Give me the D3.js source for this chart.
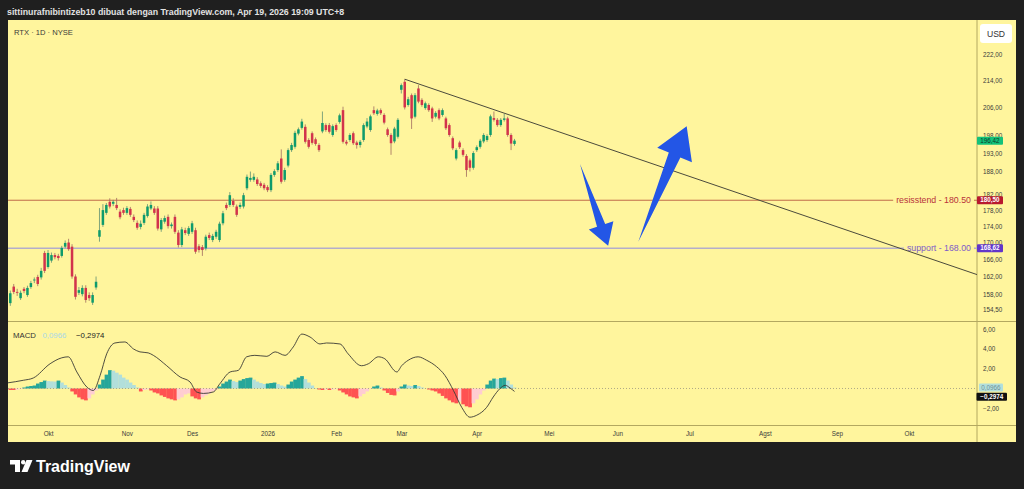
<!DOCTYPE html>
<html>
<head>
<meta charset="utf-8">
<script src="https://cdn.jsdelivr.net/npm/d3@7"></script>
<style>
  html, body { margin: 0; padding: 0; background: #1f1f1f; overflow: hidden; }
  svg { display: block; font-family: "Liberation Sans", Arial, sans-serif; }
</style>
</head>
<body>
<div id="chart"></div>
<script>
// Daily candles, RTX, bar index 0 = Sep 16 2025 ... 147 = Apr 17 2026
var barOpen = [156.0,159.7,158.5,157.1,159.2,157.8,159.6,161.1,161.9,161.8,167.5,164.2,165.7,167.0,166.8,166.8,169.0,170.0,169.0,162.0,
  158.3,158.0,159.4,157.8,156.1,159.5,171.4,174.3,177.3,180.1,179.6,179.3,177.6,178.0,177.3,178.3,176.3,174.8,173.8,174.8,
  176.5,178.4,178.4,178.4,173.2,175.1,176.3,174.0,176.3,172.4,169.4,173.0,172.1,172.6,173.0,169.1,168.9,168.6,171.8,170.6,
  171.4,170.6,174.7,179.3,179.3,180.3,178.9,178.8,178.9,183.6,185.8,185.8,185.9,184.9,184.5,183.9,183.1,187.1,188.4,191.5,
  185.8,189.6,193.8,194.7,198.4,200.0,200.3,196.6,198.5,196.8,195.2,199.0,200.8,200.8,198.0,200.8,201.7,205.1,196.1,196.6,
  198.5,195.9,195.2,196.6,200.4,199.4,205.1,204.0,205.1,203.7,199.6,198.0,196.2,197.5,211.1,213.5,206.6,209.5,203.2,211.5,
  208.1,205.7,206.6,205.6,203.2,205.1,203.7,202.7,200.8,197.1,191.5,195.9,193.8,192.2,191.0,189.0,193.8,194.7,196.2,196.6,
  198.0,202.8,202.3,200.8,202.3,202.7,198.0,195.5];
var barHigh = [158.8,160.3,159.2,158.8,159.6,159.9,161.0,161.8,162.4,164.0,168.0,168.2,167.6,167.5,167.3,169.2,170.5,170.9,169.6,162.5,
  159.6,160.0,160.0,158.4,158.4,162.0,178.5,179.5,179.8,181.0,180.6,181.1,178.2,178.6,179.0,178.8,176.9,175.4,175.4,177.3,
  179.5,180.2,179.0,179.0,176.0,176.6,176.9,174.9,176.9,173.0,173.8,173.6,174.0,175.3,173.6,169.6,169.4,171.9,172.4,172.1,
  173.1,175.1,177.8,179.9,182.6,181.0,179.4,179.9,182.4,187.2,188.0,187.5,186.5,185.4,185.0,184.4,187.6,188.6,190.8,194.0,
  189.0,194.3,195.8,199.2,200.1,202.6,201.0,197.1,199.0,197.3,195.7,204.7,201.3,201.4,201.0,201.3,204.1,206.1,196.6,198.5,
  199.0,196.4,196.6,201.3,202.8,203.8,206.2,205.5,205.6,204.2,200.1,198.5,200.3,202.8,213.0,214.3,209.0,210.0,210.1,212.5,
  208.6,207.6,207.1,206.1,204.8,205.6,205.6,203.2,201.3,197.6,194.3,196.4,194.3,192.7,191.5,193.5,195.1,196.9,198.5,198.2,
  203.8,204.7,202.8,202.8,204.0,203.2,198.5,196.9];
var barLow = [155.4,158.0,157.6,156.7,158.2,157.4,159.2,160.5,159.8,161.3,162.8,163.8,165.2,166.0,165.7,166.4,168.6,168.0,161.5,156.8,
  157.8,157.5,156.1,156.5,155.6,159.0,170.2,173.8,176.8,178.4,179.0,178.0,175.7,176.8,176.8,176.3,175.0,173.1,173.2,174.3,
  176.1,178.0,176.8,172.9,172.6,174.6,173.4,173.4,172.1,168.8,168.9,171.8,171.6,172.1,167.3,167.6,166.8,168.1,170.6,170.1,
  170.9,170.1,174.2,178.0,178.8,178.8,176.3,178.3,178.4,183.1,185.3,185.3,184.2,183.7,183.1,182.6,182.6,186.6,187.9,184.8,
  185.3,189.1,193.3,194.2,197.9,199.5,195.6,194.2,195.3,195.0,193.3,198.5,198.9,198.4,197.5,198.9,201.2,195.6,195.1,196.1,
  195.2,194.2,194.5,196.1,199.9,198.9,203.7,203.5,203.7,201.0,197.5,192.5,195.7,197.0,210.0,205.3,206.1,199.7,202.7,207.1,
  206.1,205.2,204.6,201.7,202.7,202.2,203.2,199.4,197.5,193.8,191.0,194.1,192.0,186.6,188.0,188.5,193.3,194.2,195.7,196.1,
  197.5,201.8,200.3,200.3,201.8,197.5,193.8,195.0];
var barClose = [158.2,158.5,158.3,158.3,158.7,159.4,160.5,161.3,160.3,163.3,163.3,167.5,167.0,166.5,166.3,168.7,169.9,168.4,162.0,157.4,
  158.9,159.4,156.7,157.1,157.8,160.8,173.0,178.0,179.3,178.9,180.1,178.5,176.2,177.3,178.5,176.8,175.5,173.6,174.6,176.8,
  178.9,179.3,177.3,173.4,175.5,176.0,174.0,174.4,172.6,169.4,173.2,172.3,173.5,174.7,167.8,168.2,168.2,171.4,171.1,171.6,
  172.6,174.6,177.2,178.5,181.8,179.3,176.8,179.3,181.8,186.6,186.3,186.6,184.7,184.2,183.6,183.1,187.1,188.1,190.2,185.3,
  188.4,193.8,195.2,198.6,199.6,201.8,196.1,194.7,195.8,195.5,193.8,201.4,199.4,198.9,200.5,199.4,203.6,196.1,195.6,198.0,
  195.7,195.2,196.1,200.8,201.8,203.3,204.2,205.0,204.2,201.5,198.0,195.7,199.8,202.3,212.5,205.9,208.3,202.7,209.5,207.6,
  206.6,207.1,205.1,202.7,204.3,202.7,205.1,199.9,198.0,194.3,193.8,194.6,192.5,188.4,189.0,193.0,194.6,196.4,198.0,197.7,
  203.3,202.3,200.8,202.3,202.7,198.0,195.6,196.42];

// MACD histogram, one value per bar
var macdHist = [-0.15,-0.15,-0.12,-0.05,0.1,0.2,0.25,0.3,0.5,0.65,0.8,0.75,0.72,0.7,0.8,0.6,0.35,0.1,-0.3,-0.6,
  -0.9,-1.1,-1.2,-1.0,-0.6,-0.2,0.4,0.9,1.4,1.85,1.8,1.6,1.4,1.1,0.9,0.6,0.35,0.1,-0.3,-0.15,
  -0.1,-0.2,-0.4,-0.5,-0.7,-0.85,-1.0,-1.1,-1.2,-1.1,-0.9,-0.6,-0.5,-0.8,-1.0,-1.1,-0.9,-0.7,-0.5,-0.3,
  -0.1,0.2,0.5,0.7,0.9,0.75,0.65,0.8,0.95,1.05,1.1,0.9,0.7,0.55,0.45,0.5,0.55,0.6,0.45,0.3,
  0.2,0.4,0.7,0.9,1.1,1.25,0.95,0.6,0.3,0.05,-0.1,-0.15,-0.1,-0.15,-0.1,-0.05,-0.2,-0.4,-0.6,-0.8,
  -0.9,-1.0,-0.8,-0.55,-0.3,-0.05,0.2,0.3,0.1,-0.2,-0.45,-0.65,-0.7,-0.3,0.2,0.4,0.3,0.25,0.35,0.25,
  0.1,0.02,-0.1,-0.2,-0.3,-0.5,-0.75,-1.0,-1.2,-1.4,-1.5,-1.3,-1.6,-1.8,-1.9,-1.5,-1.1,-0.6,-0.2,0.4,
  0.8,1.0,0.95,1.05,1.1,0.8,0.4,0.0966];

// MACD line, read at these bar positions
var macdLineIdx = [-0.9,3.8,6.7,11.6,15.0,16.9,19.4,22.3,24.2,26.2,28.1,30.5,33.4,35.9,37.8,40.2,41.7,45.6,49.5,52.4,
  54.3,56.3,59.2,61.1,64.1,66.5,68.9,71.3,74.8,77.2,80.1,82.5,85.0,87.4,90.3,92.2,96.1,98.5,102.4,104.4,
  107.3,109.2,112.7,114.1,116.0,118.9,121.4,124.3,126.7,129.2,131.6,134.0,136.0,138.9,140.8,142.8,144.3,145.7,147];
var macdLineVal = [0.56,0.83,1.06,2.5,3.1,3.2,1.67,0.15,-0.2,1.33,3.5,4.6,4.7,4.0,3.7,3.6,3.35,2.3,1.16,0.66,
  -0.35,-0.5,-0.35,0.48,1.67,1.84,3.2,3.35,3.25,3.7,3.35,4.2,5.5,5.2,4.5,4.6,4.5,3.5,2.3,2.5,
  3.2,3.0,1.67,2.3,2.85,3.2,2.85,2.2,1.33,-0.2,-1.9,-2.9,-2.7,-1.9,-0.86,0,0.32,0.05,-0.2974];

var priceTicks = [222, 214, 206, 198, 193, 188, 182, 178, 174, 170, 166, 162, 158, 154.5];
var macdTicks = [6, 4, 2, -2];
var monthIdx = [11, 34, 53, 75, 95, 114, 136, 157, 177, 198, 220, 241, 262];
var monthLabels = ["Okt", "Nov", "Des", "2026", "Feb", "Mar", "Apr", "Mei", "Jun", "Jul", "Agst", "Sep", "Okt"];

// drawings
var resistLevel = 180.50, supportLevel = 168.62;
var trendIdx = [115, 282], trendPrice = [214.3, 162.4];
var arrowFrom = [[166.1, 190.0], [183.1, 170.2]];
var arrowTo = [[174.3, 169.2], [197.2, 200.5]];
var macdNow = 0.0966, macdLineNow = -0.2974;

var svgWidth = 1024, svgHeight = 489;
var axisX = 977;
var priceTop = 20, priceBottom = 321.5, macdBottom = 425.5;

var fmt = function(d) { return d.toFixed(2).replace(".", ","); };
function fmt4(v) { return (v < 0 ? "\u2212" : "") + Math.abs(v).toFixed(4).replace(".", ","); }

var svg = d3.select("#chart").append("svg")
  .attr("width", svgWidth)
  .attr("height", svgHeight);

svg.append("rect").attr("width", svgWidth).attr("height", svgHeight).attr("fill", "#1f1f1f");
svg.append("rect")
  .attr("x", 8).attr("y", 20).attr("width", 1008).attr("height", 422)
  .attr("fill", "#fff59d");

// header
svg.append("text")
  .attr("x", 7).attr("y", 15)
  .attr("fill", "#e2e2e2")
  .attr("font-size", "8.8px")
  .attr("font-weight", "bold")
  .text("sittinurafnibintizeb10 dibuat dengan TradingView.com, Apr 19, 2026 19:09 UTC+8");

// scales
var x = d3.scaleLinear().domain([0, 147]).range([10.3, 514.5]);
var step = x(1) - x(0);
var yPrice = d3.scaleLog().domain([151.99, 233.06]).range([priceBottom, priceTop]);
var yMacd = d3.scaleLinear().domain([-3.74, 6.77]).range([macdBottom, priceBottom]);

var defs = svg.append("defs");
defs.append("clipPath").attr("id", "clipPrice").append("rect")
  .attr("x", 8).attr("y", priceTop).attr("width", axisX - 8).attr("height", priceBottom - priceTop);
defs.append("clipPath").attr("id", "clipMacd").append("rect")
  .attr("x", 8).attr("y", priceBottom).attr("width", axisX - 8).attr("height", macdBottom - priceBottom);

// pane separators
var sepColor = "#b3a860";
svg.append("line").attr("x1", 8).attr("x2", 1016).attr("y1", priceBottom).attr("y2", priceBottom)
  .attr("stroke", sepColor).attr("stroke-width", 1);
svg.append("line").attr("x1", 8).attr("x2", 1016).attr("y1", macdBottom).attr("y2", macdBottom)
  .attr("stroke", sepColor).attr("stroke-width", 1);
svg.append("line").attr("x1", axisX).attr("x2", axisX).attr("y1", 20).attr("y2", 442)
  .attr("stroke", sepColor).attr("stroke-width", 1);

var priceG = svg.append("g").attr("clip-path", "url(#clipPrice)");
var macdG = svg.append("g").attr("clip-path", "url(#clipMacd)");

// support / resistance lines with their texts
function levelLine(value, lineColor, lineWidth, textColor, label) {
  var yy = yPrice(value);
  var t = priceG.append("text")
    .attr("x", 971).attr("y", yy)
    .attr("dy", "0.35em")
    .attr("text-anchor", "end")
    .attr("font-size", "8.8px")
    .attr("fill", textColor)
    .text(label);
  var w = t.node().getComputedTextLength();
  priceG.insert("line", "text")
    .attr("x1", 8).attr("x2", 971 - w - 3).attr("y1", yy).attr("y2", yy)
    .attr("stroke", lineColor).attr("stroke-width", lineWidth);
  priceG.insert("line", "text")
    .attr("x1", 974).attr("x2", axisX).attr("y1", yy).attr("y2", yy)
    .attr("stroke", lineColor).attr("stroke-width", lineWidth);
}
levelLine(resistLevel, "#c06a4a", 1, "#b8323a", "resisstend - 180.50");
levelLine(supportLevel, "#b4aecb", 1.6, "#7e5cc8", "support - 168.00");

// candles
var bars = d3.range(barClose.length).map(function(i) {
  return {i: i, o: barOpen[i], h: barHigh[i], l: barLow[i], c: barClose[i]};
});
var upColor = "#0e9b6c", downColor = "#d2334c";

priceG.selectAll("line.wick")
  .data(bars)
  .enter()
  .append("line")
  .attr("class", "wick")
  .attr("x1", d => x(d.i)).attr("x2", d => x(d.i))
  .attr("y1", d => yPrice(d.h)).attr("y2", d => yPrice(d.l))
  .attr("stroke", d => d.c >= d.o ? "#5f8f72" : "#a06a60")
  .attr("stroke-width", 0.8);

priceG.selectAll("rect.body")
  .data(bars)
  .enter()
  .append("rect")
  .attr("class", "body")
  .attr("x", d => x(d.i) - 1.25)
  .attr("width", 2.5)
  .attr("y", d => yPrice(Math.max(d.o, d.c)))
  .attr("height", d => Math.max(0.8, Math.abs(yPrice(d.o) - yPrice(d.c))))
  .attr("fill", d => d.c >= d.o ? upColor : downColor);

// trend line
priceG.append("line")
  .attr("x1", x(trendIdx[0])).attr("y1", yPrice(trendPrice[0]))
  .attr("x2", x(trendIdx[1])).attr("y2", yPrice(trendPrice[1]))
  .attr("stroke", "#4b4a3c").attr("stroke-width", 1);

// arrows
function arrowPoints(from, to) {
  var tx = x(from[0]), ty = yPrice(from[1]);
  var px = x(to[0]), py = yPrice(to[1]);
  var dx = px - tx, dy = py - ty, len = Math.sqrt(dx * dx + dy * dy);
  var ux = dx / len, uy = dy / len, nx = -uy, ny = ux;
  var hl = len * 0.25, hw = len * 0.3, sw = len * 0.1;
  var bx = px - ux * hl, by = py - uy * hl;
  return [
    [tx, ty],
    [bx + nx * sw / 2, by + ny * sw / 2],
    [bx + nx * hw / 2, by + ny * hw / 2],
    [px, py],
    [bx - nx * hw / 2, by - ny * hw / 2],
    [bx - nx * sw / 2, by - ny * sw / 2]
  ];
}
priceG.selectAll("polygon.arrow")
  .data(arrowFrom)
  .enter()
  .append("polygon")
  .attr("class", "arrow")
  .attr("points", (d, k) => arrowPoints(d, arrowTo[k]).map(p => p.join(",")).join(" "))
  .attr("fill", "#2356e6");

// legend
svg.append("text").attr("x", 14).attr("y", 35)
  .attr("font-size", "7.6px").attr("fill", "#3a3a3a")
  .text("RTX \u00b7 1D \u00b7 NYSE");

// MACD histogram
var histColor = function(d, i) {
  var prev = i > 0 ? macdHist[i - 1] : 0;
  if (d >= 0) return d >= prev ? "#26a69a" : "#b2dfdb";
  return d <= prev ? "#ff5252" : "#ffcdd2";
};
macdG.selectAll("rect.hist")
  .data(macdHist)
  .enter()
  .append("rect")
  .attr("class", "hist")
  .attr("x", (d, i) => x(i) - step / 2)
  .attr("width", step + 0.3)
  .attr("y", d => yMacd(Math.max(0, d)))
  .attr("height", d => Math.abs(yMacd(d) - yMacd(0)))
  .attr("fill", histColor);

macdG.append("line")
  .attr("x1", 8).attr("x2", axisX)
  .attr("y1", yMacd(0)).attr("y2", yMacd(0))
  .attr("stroke", "#9b9780").attr("stroke-width", 0.8)
  .attr("stroke-dasharray", "1,2");

var macdLine = d3.line()
  .x(d => x(d[0]))
  .y(d => yMacd(d[1]))
  .curve(d3.curveMonotoneX);
macdG.append("path")
  .datum(macdLineIdx.map((v, k) => [v, macdLineVal[k]]))
  .attr("d", macdLine)
  .attr("fill", "none")
  .attr("stroke", "#3a3a35")
  .attr("stroke-width", 0.9);

svg.append("text").attr("x", 13).attr("y", 338).attr("font-size", "7.8px").attr("fill", "#333").text("MACD");
svg.append("text").attr("x", 42.5).attr("y", 338).attr("font-size", "7.8px").attr("fill", "#a9d8e6").text(fmt4(macdNow));
svg.append("text").attr("x", 76).attr("y", 338).attr("font-size", "7.8px").attr("fill", "#222").text(fmt4(macdLineNow));

// price axis
var priceAxis = svg.append("g")
  .attr("transform", `translate(${axisX},0)`)
  .call(d3.axisRight(yPrice).tickValues(priceTicks).tickSize(0).tickPadding(6).tickFormat(fmt));
priceAxis.select(".domain").remove();
priceAxis.selectAll("text").attr("font-size", "6.3px").attr("fill", "#3b3b3b")
  .attr("font-family", "'Liberation Sans', Arial, sans-serif");

var macdAxis = svg.append("g")
  .attr("transform", `translate(${axisX},0)`)
  .call(d3.axisRight(yMacd).tickValues(macdTicks).tickSize(0).tickPadding(6)
    .tickFormat(d => (d < 0 ? "\u2212" : "") + fmt(Math.abs(d))));
macdAxis.select(".domain").remove();
macdAxis.selectAll("text").attr("font-size", "6.3px").attr("fill", "#3b3b3b")
  .attr("font-family", "'Liberation Sans', Arial, sans-serif");

var timeAxis = svg.append("g")
  .attr("transform", `translate(0,${macdBottom})`)
  .call(d3.axisBottom(x).tickValues(monthIdx).tickSize(0).tickPadding(6)
    .tickFormat((d, i) => monthLabels[i]));
timeAxis.select(".domain").remove();
timeAxis.selectAll("text").attr("font-size", "6.3px").attr("fill", "#3b3b3b")
  .attr("font-family", "'Liberation Sans', Arial, sans-serif");

// axis value boxes
function axisBox(yy, x0, w, fill, textColor, label, bold) {
  svg.append("rect").attr("x", x0).attr("y", yy - 4).attr("width", w).attr("height", 8)
    .attr("rx", 1).attr("fill", fill);
  svg.append("text").attr("x", x0 + w / 2).attr("y", yy).attr("dy", "0.35em")
    .attr("text-anchor", "middle").attr("font-size", "6.3px")
    .attr("font-weight", bold ? "bold" : "normal")
    .attr("fill", textColor).text(label);
}
axisBox(yPrice(barClose[barClose.length - 1]), 977, 26, "#13c27a", "#0f3b28", fmt(barClose[barClose.length - 1]), false);
axisBox(yPrice(resistLevel), 977, 26, "#b8192e", "#ffffff", fmt(resistLevel), true);
axisBox(yPrice(supportLevel), 977, 26, "#6236c9", "#ffffff", fmt(supportLevel), true);
axisBox(yMacd(macdNow), 979, 24, "#b2dfdb", "#6f8f9a", fmt4(macdNow), false);
axisBox(yMacd(macdLineNow) + 5.3, 976.5, 30.5, "#111111", "#ffffff", fmt4(macdLineNow), true);

// USD box
svg.append("rect").attr("x", 980).attr("y", 24).attr("width", 32).attr("height", 19)
  .attr("rx", 3).attr("fill", "#ffffff");
svg.append("text").attr("x", 996).attr("y", 33.5).attr("dy", "0.35em")
  .attr("text-anchor", "middle").attr("font-size", "8.6px").attr("fill", "#333").text("USD");

// TradingView logo
var logo = svg.append("g").attr("fill", "#ffffff");
logo.append("path").attr("d", "M10,460 H20 V472 H15 V464.5 H10 Z");
logo.append("circle").attr("cx", 23.2).attr("cy", 462.2).attr("r", 2.2);
logo.append("path").attr("d", "M26.5,460 H32.5 L27.5,472 H21.5 Z");
logo.append("text").attr("x", 36).attr("y", 472)
  .attr("font-size", "16px").attr("font-weight", "bold")
  .text("TradingView");
</script>
</body>
</html>
